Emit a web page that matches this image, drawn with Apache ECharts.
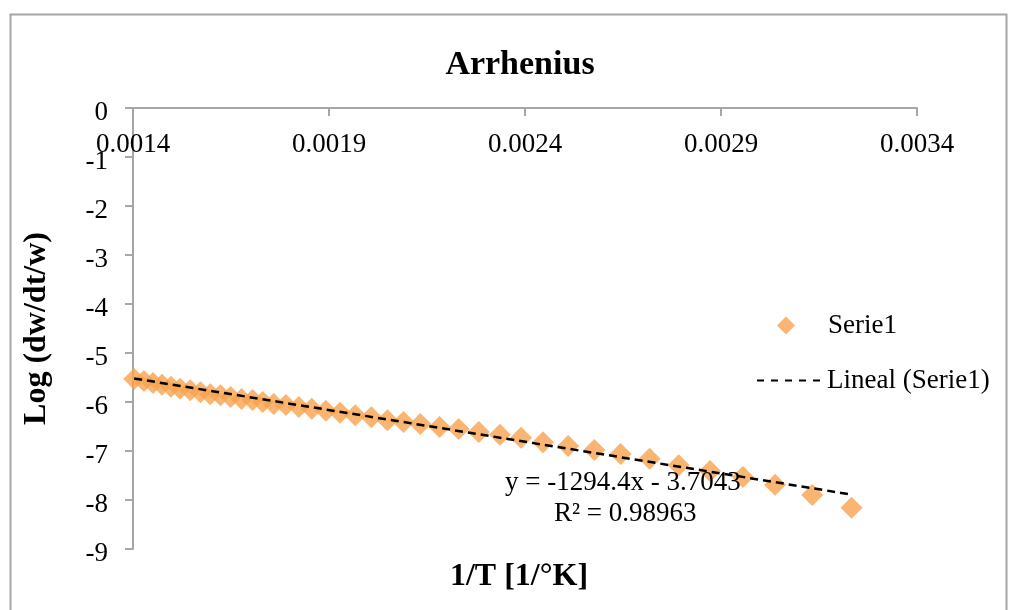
<!DOCTYPE html>
<html>
<head>
<meta charset="utf-8">
<script src="https://cdn.jsdelivr.net/npm/echarts@6/dist/echarts.min.js"></script>
<style>
html,body{margin:0;padding:0;background:#fff;}
#c{width:1016px;height:610px;}
</style>
</head>
<body>
<div id="c"></div>
<script>
// 1/T values [1/K]
const invT = [0.001403,0.001428,0.001451,0.001474,0.001497,0.001520,0.001546,0.001572,0.001597,0.001623,
  0.001649,0.001677,0.001705,0.001731,0.001759,0.001790,0.001823,0.001856,0.001892,0.001928,
  0.001967,0.002008,0.002049,0.002090,0.002133,0.002182,0.002231,0.002282,0.002336,0.002390,
  0.002446,0.002510,0.002577,0.002644,0.002718,0.002792,0.002872,0.002956,0.003038,0.003133,0.003233];
// Log(dw/dt/w)
const logRate = [-5.53,-5.57,-5.61,-5.65,-5.69,-5.73,-5.76,-5.80,-5.84,-5.86,
  -5.90,-5.94,-5.96,-6.00,-6.04,-6.06,-6.10,-6.14,-6.18,-6.22,
  -6.27,-6.31,-6.37,-6.41,-6.45,-6.51,-6.55,-6.61,-6.67,-6.73,
  -6.82,-6.90,-6.98,-7.06,-7.16,-7.29,-7.41,-7.53,-7.69,-7.90,-8.16];
// Linear trendline coefficients: y = slope*x + intercept
const trendCoef = [-1294.4, -3.7043];
const trendLabel = ['y = -1294.4x - 3.7043', 'R² = 0.98963'];
const xTicks = [0.0014, 0.0034, 0.0005];
const yTicks = [-9, 0, 1];

const pts = invT.map((x, i) => [x, logRate[i]]);
const xMin = Math.min(...invT), xMax = Math.max(...invT);
const trend = [[xMin, trendCoef[0]*xMin + trendCoef[1]], [xMax, trendCoef[0]*xMax + trendCoef[1]]];

const FONT = '"Liberation Serif", "Times New Roman", serif';
const AX = '#a6a6a6';
const dashIcon = 'path://M0,0h7v2h-7z M14,0h7v2h-7z M28,0h7v2h-7z M42,0h7v2h-7z M56,0h7v2h-7z';
const chart = echarts.init(document.getElementById('c'));
chart.setOption({
  backgroundColor: '#fff',
  animation: false,
  title: {
    text: 'Arrhenius', left: 515, top: 43, textAlign: 'center',
    textStyle: {fontFamily: FONT, fontSize: 34, fontWeight: 'bold', color: '#000'}
  },
  legend: [{
    data: ['Serie1'], orient: 'vertical', left: 772, top: 307,
    icon: 'diamond', itemWidth: 18, itemHeight: 18,
    textStyle: {fontFamily: FONT, fontSize: 27, color: '#000', padding: [0,0,0,28]}
  }, {
    data: [{name: 'Lineal (Serie1)', icon: dashIcon}], orient: 'vertical', left: 752, top: 362,
    itemWidth: 63, itemHeight: 2,
    itemStyle: {color: '#000'},
    textStyle: {fontFamily: FONT, fontSize: 27, color: '#000', padding: [0,0,0,2]}
  }],
  grid: {left: 133, top: 108, width: 784, height: 441, containLabel: false},
  xAxis: {
    type: 'value', position: 'top', min: xTicks[0], max: xTicks[1], interval: xTicks[2],
    axisLine: {show: true, onZero: false, lineStyle: {color: AX, width: 2}},
    axisTick: {show: true, inside: true, length: 8, lineStyle: {color: AX, width: 2}},
    axisLabel: {inside: true, margin: 23, fontFamily: FONT, fontSize: 27, color: '#000',
      formatter: v => v.toFixed(4)},
    splitLine: {show: false}
  },
  yAxis: {
    type: 'value', min: yTicks[0], max: yTicks[1], interval: yTicks[2],
    name: 'Log (dw/dt/w)', nameLocation: 'middle', nameGap: 80, nameRotate: 90,
    nameTextStyle: {fontFamily: FONT, fontSize: 32, fontWeight: 'bold', color: '#000'},
    axisLine: {show: true, onZero: false, lineStyle: {color: AX, width: 2}},
    axisTick: {show: true, length: 8, lineStyle: {color: AX, width: 2}},
    axisLabel: {margin: 25, color: '#000',
      formatter: v => '{a|' + v + '}',
      rich: {a: {fontFamily: FONT, fontSize: 27, color: '#000', padding: [9,0,0,0]}}},
    splitLine: {show: false}
  },
  graphic: [
    {type: 'rect', left: 8, top: 12, shape: {width: 996, height: 620},
     style: {fill: 'none', stroke: '#a6a6a6', lineWidth: 2}, silent: true, z: -10},
    {type: 'text', x: 519, y: 561,
     style: {text: '1/T [1/°K]', font: 'bold 32px ' + FONT, fill: '#000', align: 'center'}},
    {type: 'text', left: 505, top: 469,
     style: {text: trendLabel[0], font: '27px ' + FONT, fill: '#000'}, z: 100},
    {type: 'text', left: 554, top: 500,
     style: {text: trendLabel[1], font: '27px ' + FONT, fill: '#000'}, z: 100}
  ],
  series: [{
    name: 'Serie1', type: 'scatter', data: pts, symbol: 'diamond', symbolSize: 22,
    itemStyle: {color: '#F8A24E'}, z: 2
  }, {
    name: 'Lineal (Serie1)', type: 'line', data: trend, symbol: 'none',
    lineStyle: {color: '#000', width: 2.5, type: [8, 5]}, itemStyle: {color: '#000'}, z: 3
  }]
});
</script>
</body>
</html>
